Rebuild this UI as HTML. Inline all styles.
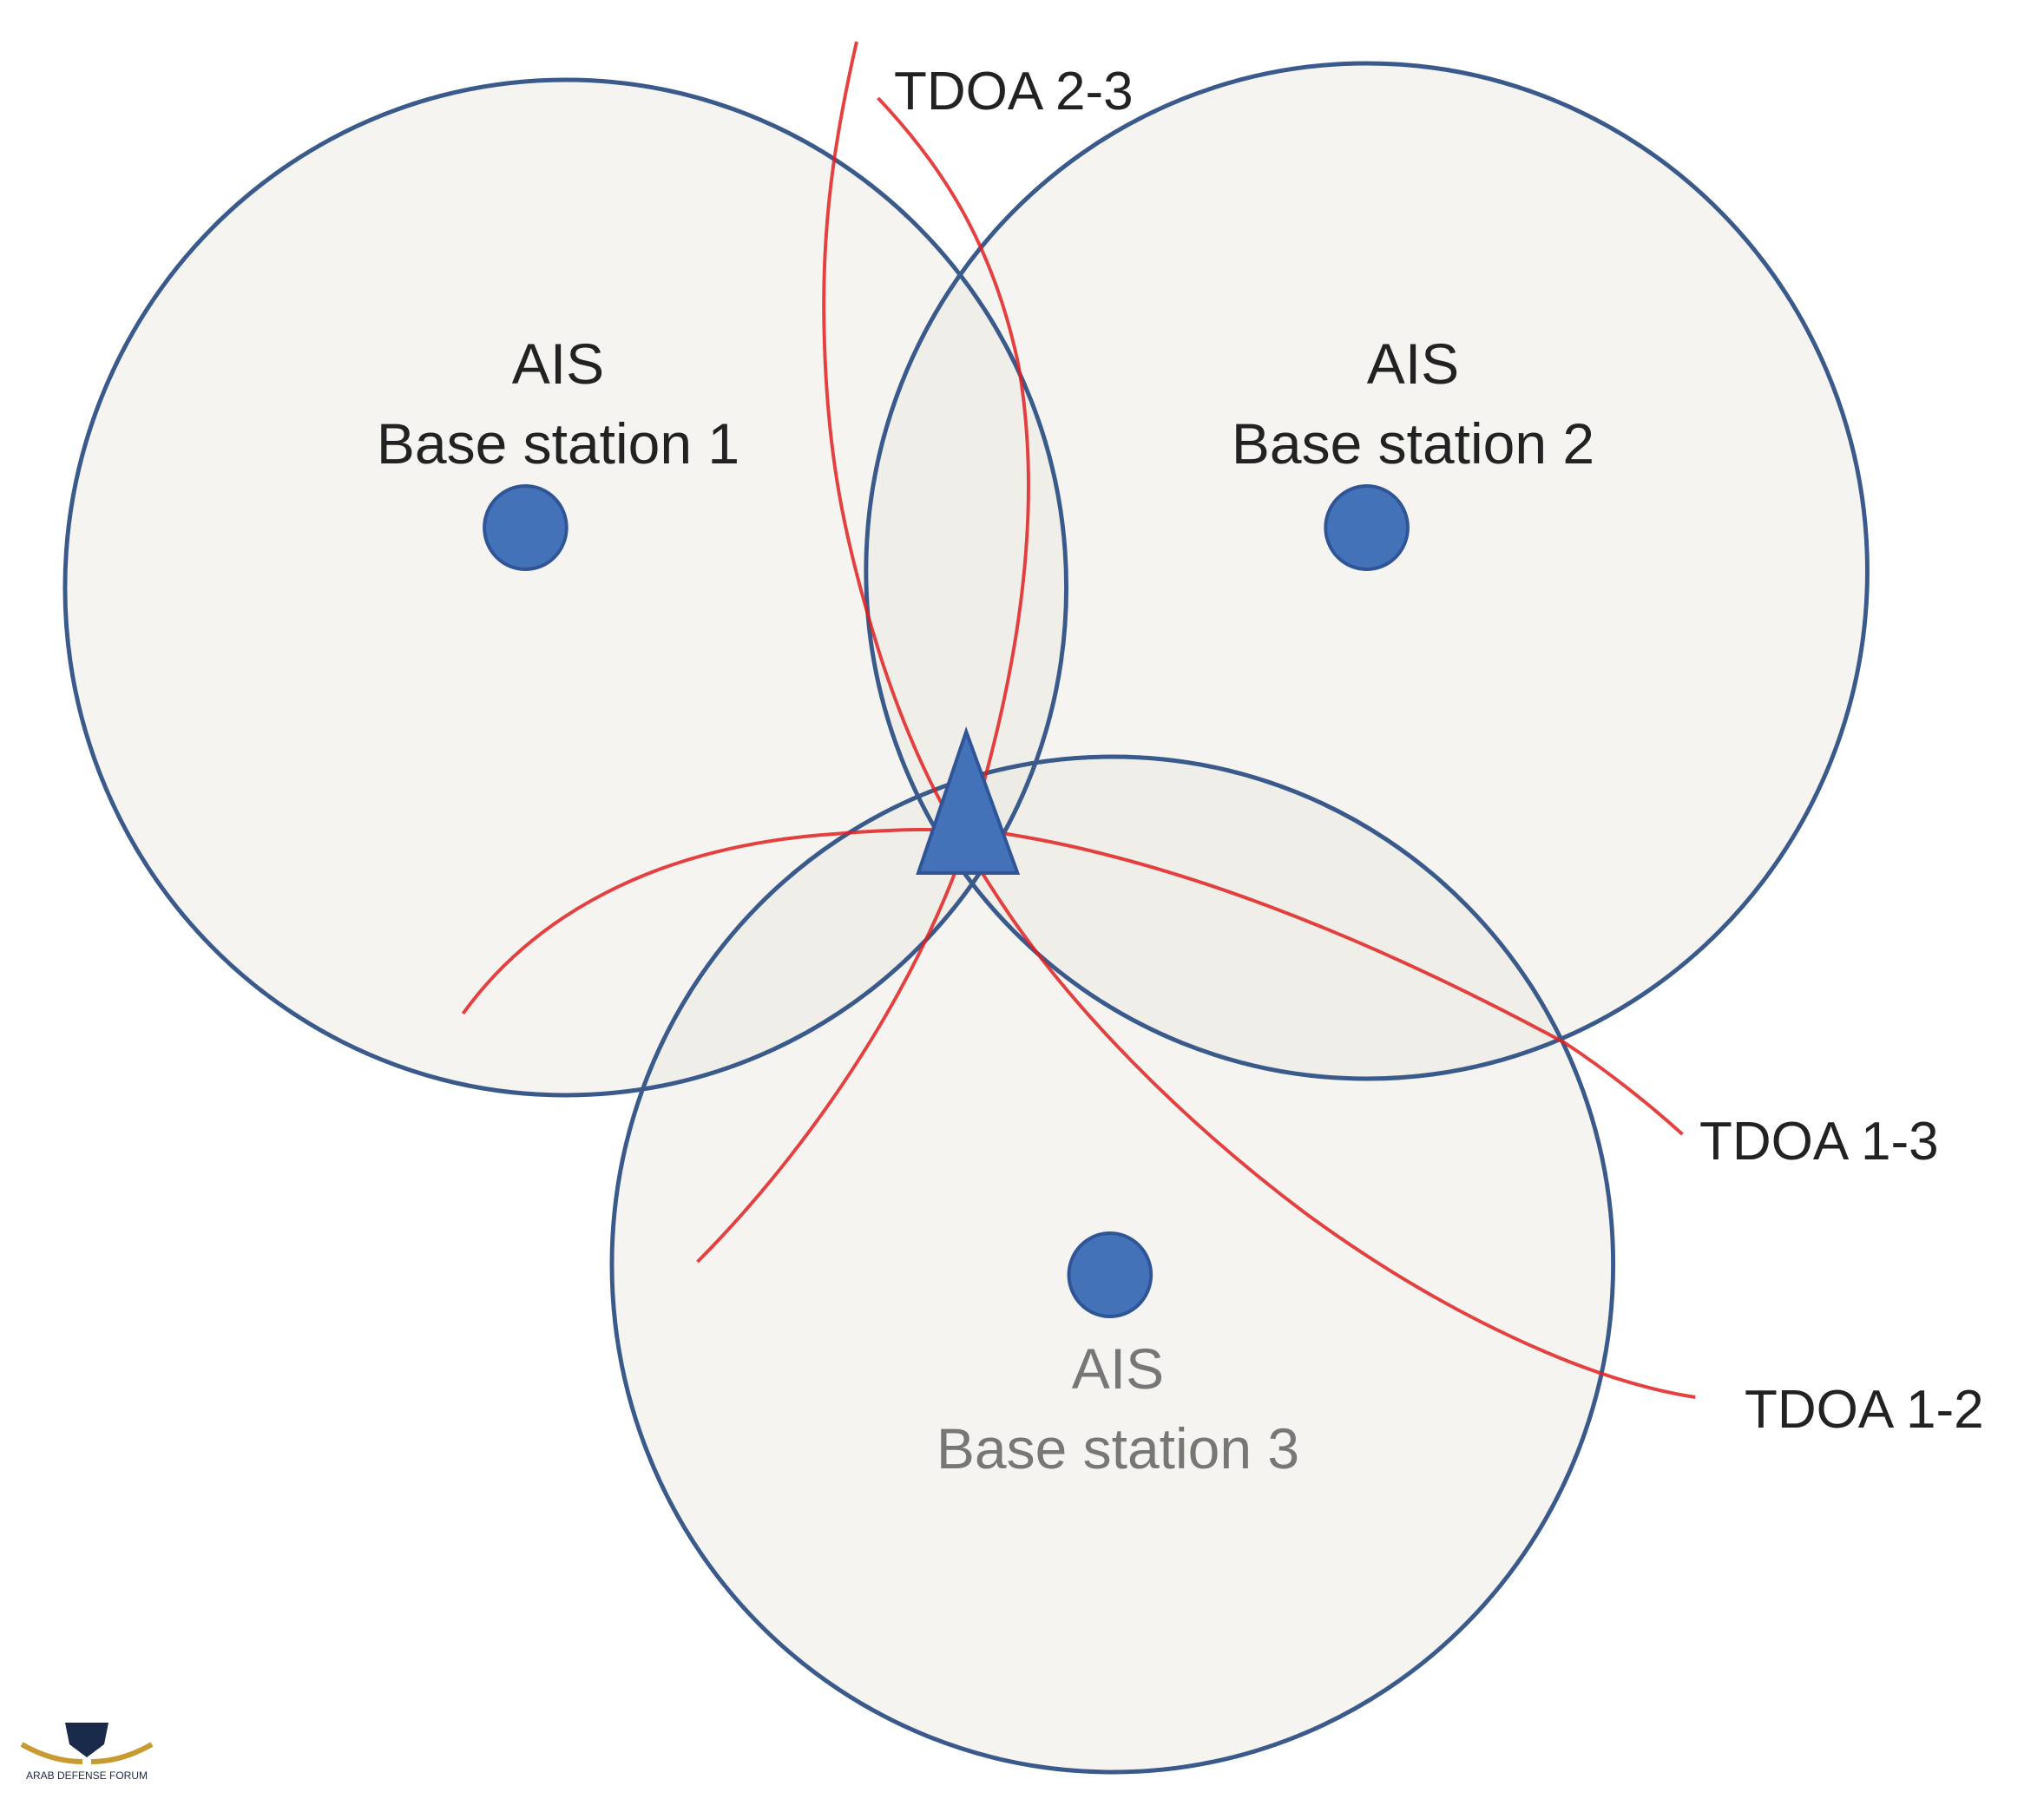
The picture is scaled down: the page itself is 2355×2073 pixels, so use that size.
<!DOCTYPE html>
<html><head><meta charset="utf-8"><style>
html,body{margin:0;padding:0;background:#fff}
svg{display:block}
text{font-family:"Liberation Sans","DejaVu Sans",sans-serif}
</style></head><body>
<svg width="2355" height="2073" viewBox="0 0 2355 2073" xmlns="http://www.w3.org/2000/svg">
<rect width="2355" height="2073" fill="#fff"/>
<g transform="scale(0.986 1)">
<g fill="rgb(232,230,224)" fill-opacity="0.45">
<circle cx="661" cy="677" r="585"/>
<circle cx="1597" cy="658" r="585"/>
<circle cx="1300" cy="1457" r="585"/>
</g>
<g fill="none" stroke="#3a5a8c" stroke-width="5">
<circle cx="661" cy="677" r="585"/>
<circle cx="1597" cy="658" r="585"/>
<circle cx="1300" cy="1457" r="585"/>
</g>
<g fill="none" stroke="#e02020" stroke-width="4" stroke-opacity="0.85" stroke-linejoin="round">
<path d="M1001 48 C975 160 960 260 963 380 C966 520 985 620 1030 760 C1070 880 1110 950 1170 1040 C1250 1160 1380 1290 1524 1397 C1680 1510 1850 1590 1981 1610"/>
<path d="M1026 113 C1100 190 1160 280 1190 420 C1215 560 1200 720 1150 900 C1100 1100 960 1310 815 1454"/>
<path d="M541 1168 C620 1060 760 975 975 961 C1050 955 1100 954 1170 960 C1370 990 1600 1080 1829 1202 C1880 1235 1930 1275 1966 1307"/>
</g>
<g fill="#4472b8" stroke="#2f5597" stroke-width="4">
<circle cx="614" cy="608" r="48"/>
<circle cx="1597" cy="608" r="48"/>
<circle cx="1297" cy="1469" r="48"/>
<polygon points="1129,843 1073,1006 1189,1006"/>
</g>
</g>
<g font-size="66" text-anchor="middle" fill="#222">
<text x="643" y="442">AIS</text>
<text x="643" y="534">Base station 1</text>
<text x="1628" y="442">AIS</text>
<text x="1628" y="534">Base station 2</text>
</g>
<g font-size="66" text-anchor="middle" fill="#777">
<text x="1288" y="1600">AIS</text>
<text x="1288" y="1692">Base station 3</text>
</g>
<g font-size="62" fill="#222">
<text x="1030" y="126">TDOA 2-3</text>
<text x="1958" y="1336">TDOA 1-3</text>
<text x="2010" y="1645">TDOA 1-2</text>
</g>
<g>
<polygon points="75,1985 125,1985 120,2010 100,2025 80,2010" fill="#1a2a4a"/>
<path d="M25 2010 Q60 2030 95 2030 M175 2010 Q140 2030 105 2030" stroke="#c89a30" stroke-width="6" fill="none"/>
<text x="100" y="2050" font-size="12" text-anchor="middle" fill="#1a2a4a">ARAB DEFENSE FORUM</text>
</g>
</svg>
</body></html>
